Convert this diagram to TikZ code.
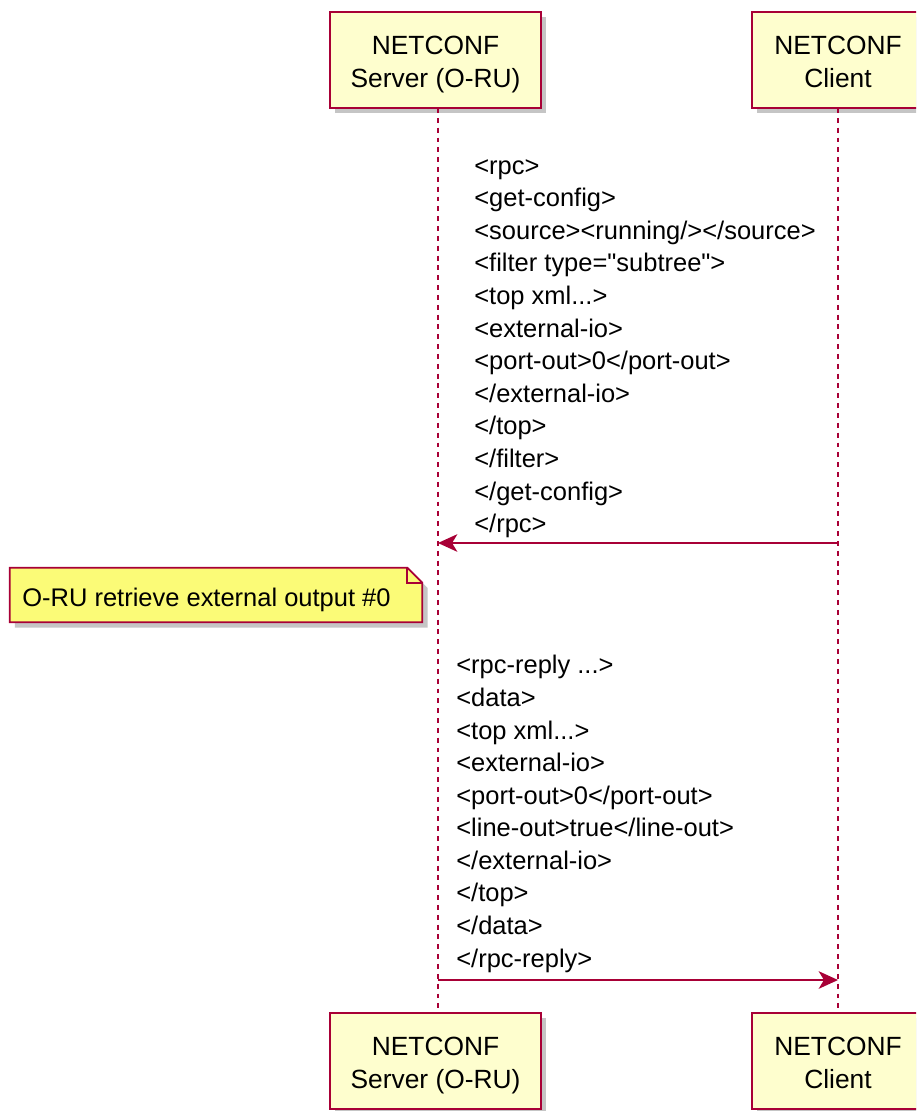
\documentclass[tikz,border=0pt]{standalone}
\usepackage{fontspec}
\setmainfont{Liberation Sans}
\newfontfamily\rectas{Liberation Sans}
\usetikzlibrary{arrows.meta, shadows, positioning, calc}
\definecolor{borde}{HTML}{A80036}
\definecolor{crema}{HTML}{FEFECE}
\definecolor{notaam}{HTML}{FBFB77}
\tikzset{
  actor/.style={rectangle, draw=borde, fill=crema, line width=1.1pt, minimum width=4.22cm,
                minimum height=1.92cm, align=center, font=\fontsize{15}{18.7}\selectfont,
                text height=35pt, text depth=4pt,
                drop shadow={shadow xshift=3pt, shadow yshift=-3pt, fill=black!45}},
  client/.style={actor, minimum width=3.44cm},
  vida/.style={draw=borde, line width=0.8pt, dash pattern=on 2.8pt off 2.8pt},
  msj/.style={anchor=north west, inner sep=0pt, align=left, font=\fontsize{14.5}{18.55}\selectfont},
  flecha/.style={draw=borde, line width=1.1pt, -{Stealth[length=11pt, width=10pt, inset=3pt]}},
  notatxt/.style={rectangle, minimum width=8.24cm, minimum height=1.08cm, inner sep=0pt,
                  font=\fontsize{14.5}{17}\selectfont}
}
\newcommand{\comi}{{\rectas"}}
\begin{document}
\begin{tikzpicture}[x=0.02cm, y=-0.02cm]
  \clip (0,0) rectangle (916,1111);
  \fill[white] (0,0) rectangle (916,1111);
  % participantes
  \node (srvtop) [actor] at (435.5,60) {NETCONF\\Server (O-RU)};
  \node (clitop) [client] at (838,60) {NETCONF\\Client};
  \node (srvbot) [actor] at (435.5,1061) {NETCONF\\Server (O-RU)};
  \node (clibot) [client] at (838,1061) {NETCONF\\Client};
  \coordinate (s0) at (438,108); \coordinate (s9) at (438,1013);
  \coordinate (c0) at (838,108); \coordinate (c9) at (838,1013);
  \draw [vida] (s0) -- (s9);
  \draw [vida] (c0) -- (c9);
  % peticion
  \node (pet) [msj] at (474,159) {<rpc>\\<get-config>\\<source><running/></source>\\<filter type=\comi subtree\comi>\\<top xml...>\\<external-io>\\<port-out>0</port-out>\\</external-io>\\</top>\\</filter>\\</get-config>\\</rpc>};
  \coordinate (s1) at (438,543); \coordinate (c1) at (838,543);
  \draw [flecha] (c1) -- (s1);
  % nota
  \node (nota) [notatxt] at (216,595) {};
  \filldraw [draw=borde, fill=notaam, line width=1pt,
             drop shadow={shadow xshift=3pt, shadow yshift=-3pt, fill=black!45}]
    (nota.north west) -- ([xshift=-0.3cm]nota.north east) -- ([yshift=-0.3cm]nota.north east)
    -- (nota.south east) -- (nota.south west) -- cycle;
  \draw [borde, line width=1pt] ([xshift=-0.3cm]nota.north east) -- ([xshift=-0.3cm, yshift=-0.3cm]nota.north east)
    -- ([yshift=-0.3cm]nota.north east);
  \node (notal) [notatxt, yshift=-0.09cm] at (nota) {\hspace*{-0.38cm}O-RU retrieve external output \#0};
  % respuesta
  \node (resp) [msj] at (456,655) {<rpc-reply ...>\\<data>\\<top xml...>\\<external-io>\\<port-out>0</port-out>\\<line-out>true</line-out>\\</external-io>\\</top>\\</data>\\</rpc-reply>};
  \coordinate (s2) at (438,980); \coordinate (c2) at (838,980);
  \draw [flecha] (s2) -- (c2);
\end{tikzpicture}
\end{document}
